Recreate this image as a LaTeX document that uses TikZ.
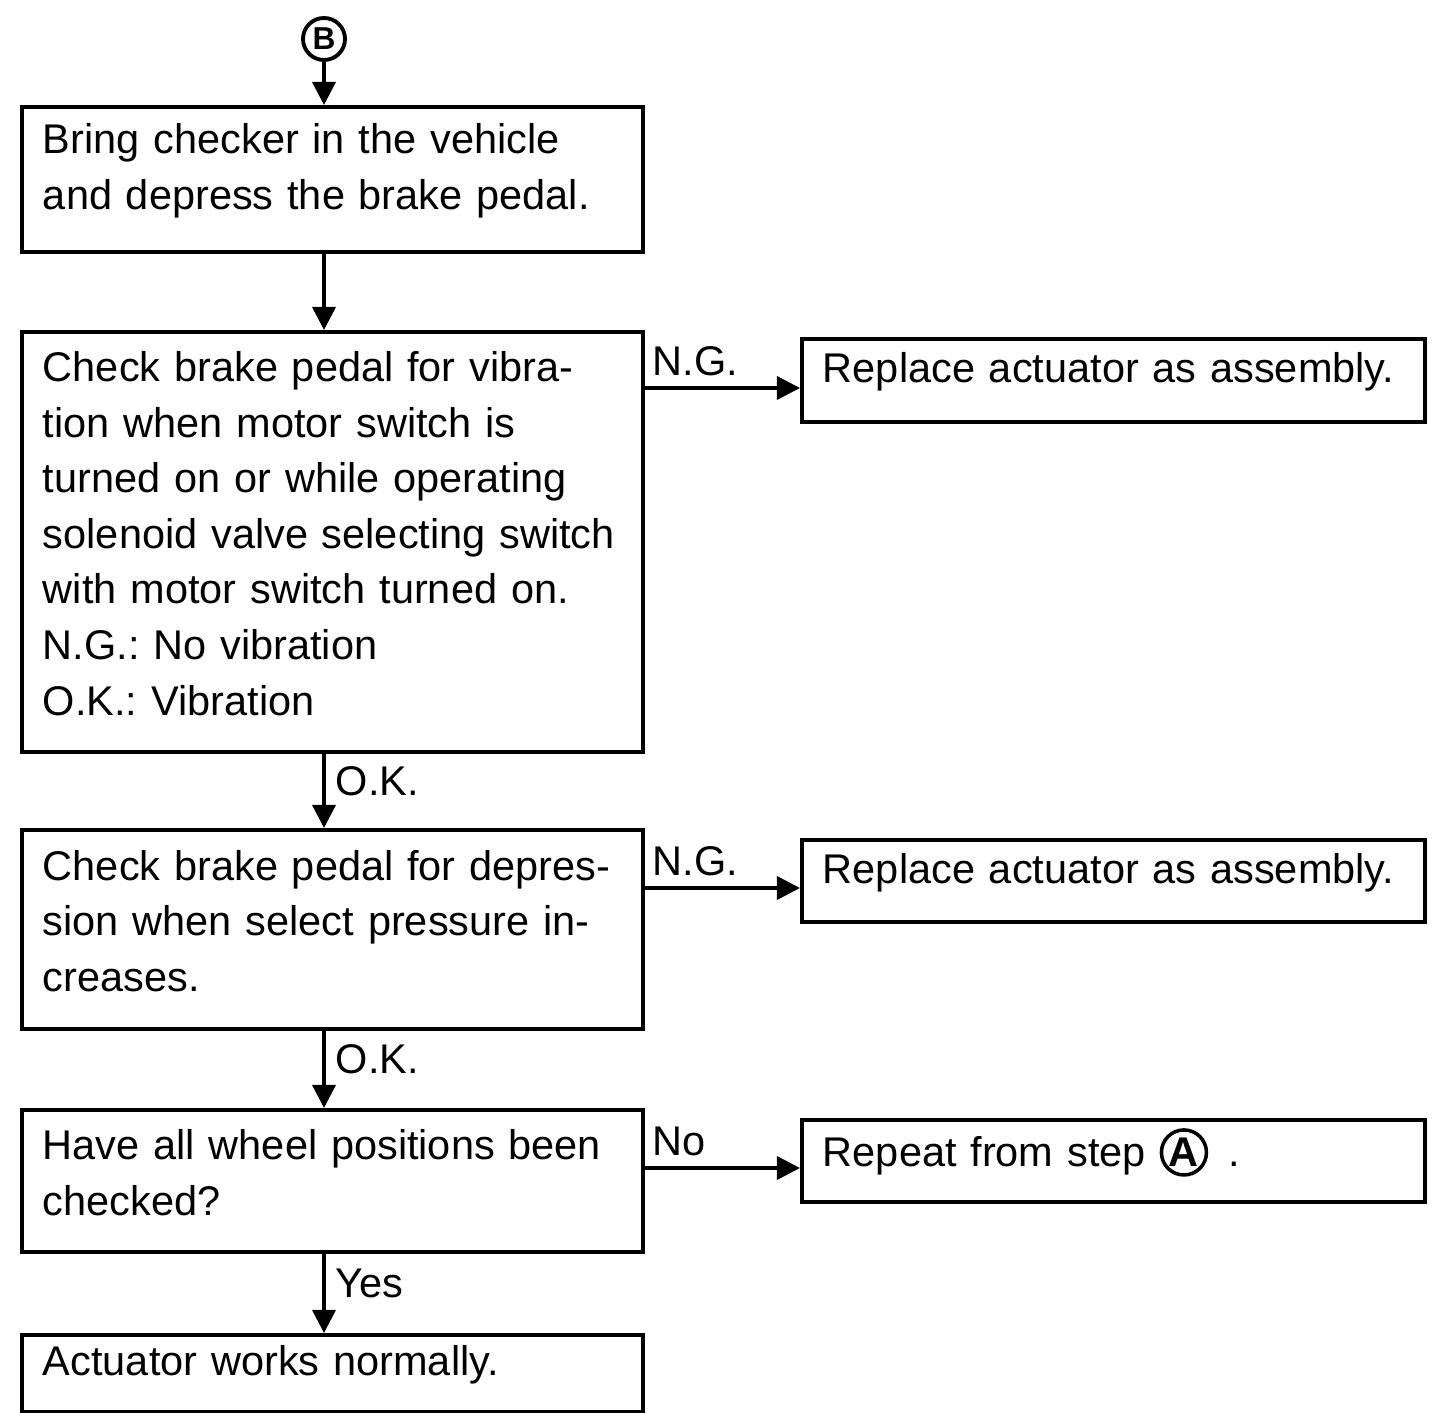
\documentclass[tikz,border=0pt]{standalone}
\usepackage{fontspec}
\setmainfont{Liberation Sans}
\usetikzlibrary{arrows.meta}
\frenchspacing

% circled letter used inside a box text
\newcommand{\circled}[1]{\tikz[baseline=(ltr.base)]\node[circle, draw, line width=1pt, inner sep=0pt, minimum size=0.45cm, font=\bfseries](ltr){#1};}

\begin{document}
\begin{tikzpicture}[x=0.01cm, y=-0.01cm, >={Triangle[length=0.23cm, width=0.23cm]},
  every node/.style={font=\fontsize{11.8}{15.8}\selectfont},
  stepbox/.style={draw, line width=1.1pt, anchor=north west, align=left, text width=5.79cm, inner xsep=0.21cm, inner ysep=0pt,
    execute at end node={\endgraf\vspace{0.17cm}}},
  fixbox/.style={stepbox, text width=5.81cm},
  link/.style={->, line width=1pt},
  tag/.style={inner sep=0.1cm}]

  \useasboundingbox (0,0) rectangle (1433,1413);

  % --- start mark ---
  \node[circle, draw, line width=1.1pt, inner sep=0pt, minimum size=0.42cm, font=\bfseries\small] (B) at (324,39) {B};

  % --- main column ---
  \node[stepbox, minimum height=1.45cm] (bring) at (20,105) {Bring checker in the vehicle\\and depress the brake pedal.};
  \node[stepbox, minimum height=4.2cm] (vib) at (20,330) {Check brake pedal for vibra-\\tion when motor switch is\\turned on or while operating\\solenoid valve selecting switch\\with motor switch turned on.\\N.G.: No vibration\\O.K.: Vibration};
  \node[stepbox, minimum height=1.99cm] (dep) at (20,828) {Check brake pedal for depres-\\sion when select pressure in-\\creases.};
  \node[stepbox, minimum height=1.42cm] (wheel) at (20,1108) {Have all wheel positions been\\checked?};
  \node[stepbox, minimum height=0.77cm] (normal) at (20,1333) {Actuator works normally.};

  % --- right column ---
  \node[fixbox, minimum height=0.83cm] (rep1) at (800,337) {Replace actuator as assembly.};
  \node[fixbox, minimum height=0.82cm] (rep2) at (800,838) {Replace actuator as assembly.};
  \node[fixbox, minimum height=0.82cm] (again) at (800,1118) {Repeat from step \circled{A}\enspace .};

  % --- vertical links ---
  \draw[link] (B) -- (B |- bring.north);
  \draw[link] (bring.south -| B) -- (vib.north -| B);
  \draw[link] (vib.south -| B) -- (dep.north -| B) node[midway, right, tag, yshift=0.1cm] {O.K.};
  \draw[link] (dep.south -| B) -- (wheel.north -| B) node[midway, right, tag, yshift=0.1cm] {O.K.};
  \draw[link] (wheel.south -| B) -- (normal.north -| B) node[midway, right, tag, yshift=0.1cm] {Yes};

  % --- side links ---
  \coordinate (ng1) at (641,388);
  \coordinate (ng2) at (641,888);
  \coordinate (no) at (641,1168);
  \draw[link] (ng1) -- (ng1 -| rep1.west) node[pos=0, above right, tag] {N.G.};
  \draw[link] (ng2) -- (ng2 -| rep2.west) node[pos=0, above right, tag] {N.G.};
  \draw[link] (no) -- (no -| again.west) node[pos=0, above right, tag] {No};

\end{tikzpicture}
\end{document}
